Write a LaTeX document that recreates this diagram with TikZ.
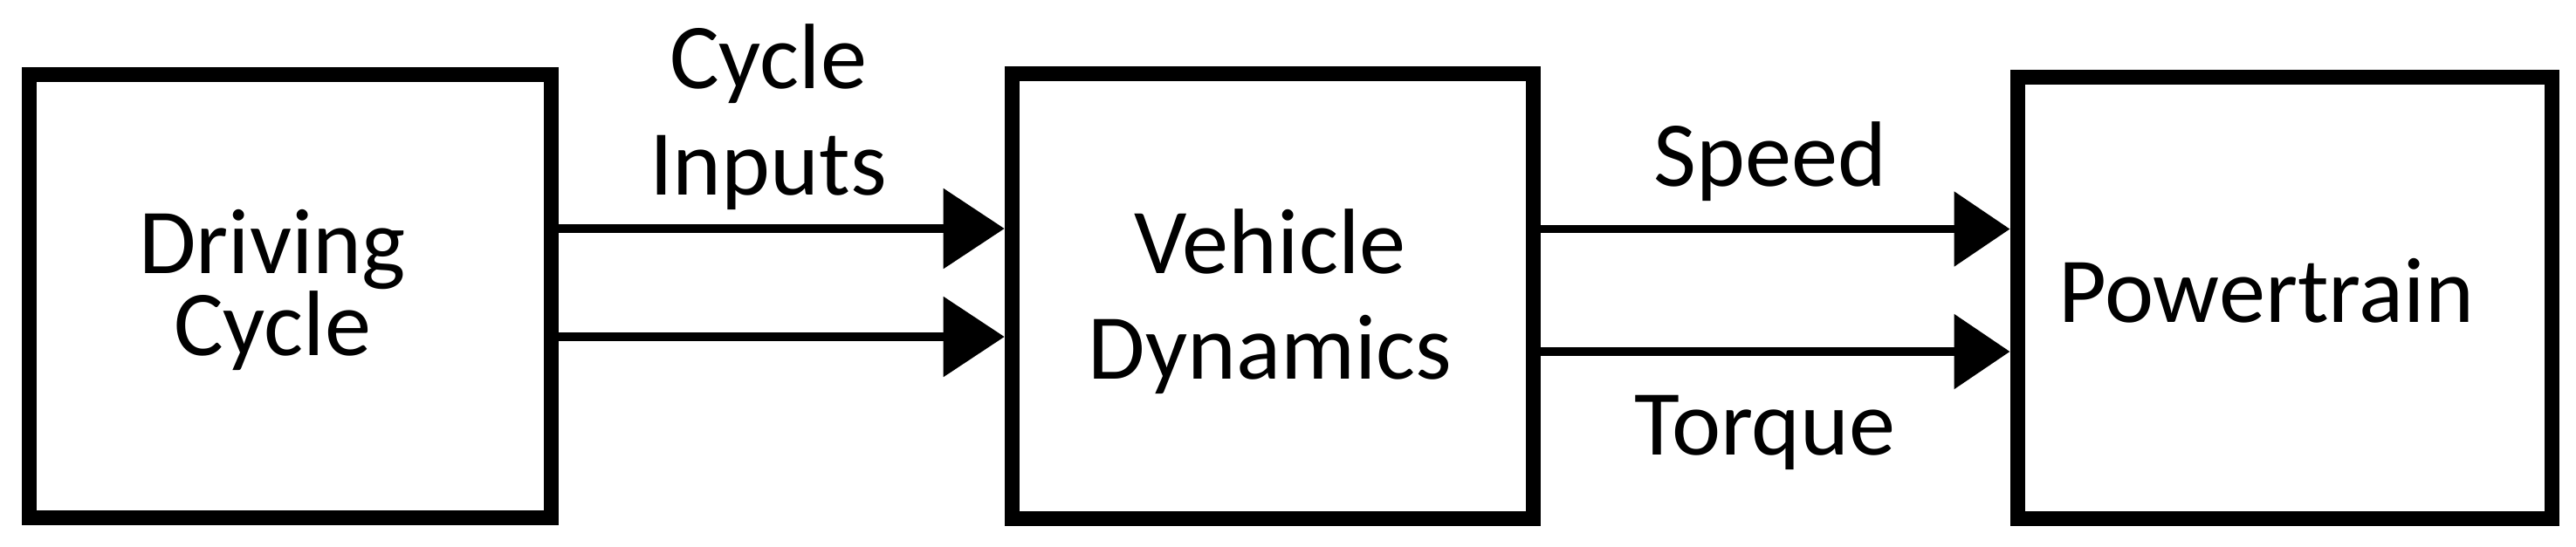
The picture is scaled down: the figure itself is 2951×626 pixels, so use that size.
\documentclass[tikz,border=0pt]{standalone}
\usepackage{fontspec}
\setmainfont{Carlito}
\usetikzlibrary{arrows.meta}
\tikzset{
  blockbox/.style={draw=black, line width=4.25pt, fill=white, inner sep=0pt},
  lbl/.style={anchor=base, inner sep=0pt, align=center, font=\fontsize{26.6pt}{30pt}\selectfont},
  arrL/.style={line width=2.4pt, -{Triangle[length=17.5pt,width=22.5pt]}},
  arrR/.style={line width=2.4pt, -{Triangle[length=16pt,width=21pt]}}
}
\begin{document}
\begin{tikzpicture}[x=0.25pt,y=-0.25pt]
\useasboundingbox (0,0) rectangle (2951,626);
% boxes
\node[blockbox, minimum width=149.5pt, minimum height=127pt] (b1) at (332.5,339) {};
\node[blockbox, minimum width=149.4pt, minimum height=127.5pt] (b2) at (1458,339) {};
\node[blockbox, minimum width=153pt, minimum height=126.5pt] (b3) at (2617,341) {};
% box texts (anchor base = baseline of last line)
\node[lbl, font=\fontsize{26.6pt}{23.5pt}\selectfont] (t1) at (312,407) {Driving\\Cycle};
\node[lbl, font=\fontsize{26.6pt}{30.25pt}\selectfont] (t2) at (1455,434) {Vehicle\\Dynamics};
\node[lbl] (t3) at (2596,369) {Powertrain};
% levels
\coordinate (ya) at (0,262);
\coordinate (yb) at (0,386);
\coordinate (yc) at (0,262.5);
\coordinate (yd) at (0,403);
% connectors
\draw[arrL] (b1.east |- ya) -- (b2.west |- ya);
\draw[arrL] (b1.east |- yb) -- (b2.west |- yb);
\draw[arrR] (b2.east |- yc) -- (b3.west |- yc);
\draw[arrR] (b2.east |- yd) -- (b3.west |- yd);
% connector labels
\node[lbl, font=\fontsize{26.6pt}{30.4pt}\selectfont] (l1) at (880,223.5) {Cycle\\Inputs};
\node[lbl] (l2) at (2028,213.5) {Speed};
\node[lbl] (l3) at (2022,521) {Torque};
\end{tikzpicture}
\end{document}
